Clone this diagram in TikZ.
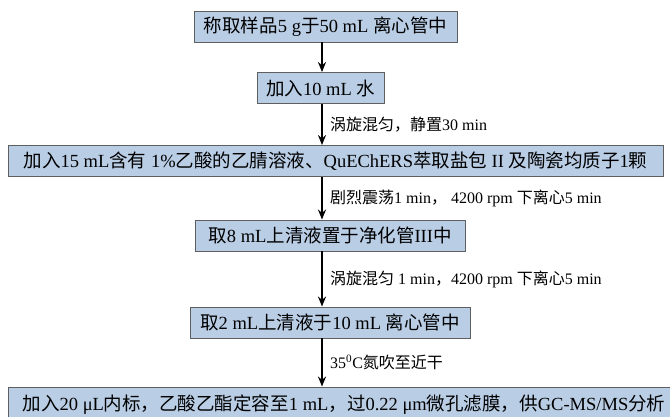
\documentclass[tikz,border=0pt]{standalone}
\usepackage{fontspec}
\setmainfont{Liberation Serif}
\newfontfamily\cjk{Noto Sans CJK SC}
\usetikzlibrary{arrows.meta,positioning}
\definecolor{boxfill}{HTML}{B9CDE5}
\definecolor{boxline}{HTML}{5F5F5F}
\newcommand{\zh}[1]{{\cjk #1}}

\begin{document}
\begin{tikzpicture}[x=1pt, y=1pt]
		\useasboundingbox (0,0) rectangle (670,416);
		\clip (0,0) rectangle (670,416);
		\coordinate (ax) at (322,0);
		\begin{scope}[every node/.style={draw=boxline, fill=boxfill, line width=0.9pt, minimum height=31pt, inner sep=0pt, font=\fontsize{18.5}{21}\selectfont}]
			\node[minimum width=263pt] (b1) at (325.5,389.5) {\zh{称取样品}5 g\zh{于}50 mL \zh{离心管中}};
			\node[minimum width=127pt] (b2) at (320.5,328) {\zh{加入}10 mL \zh{水}};
			\node[minimum width=655pt] (b3) at (335.5,255) {\zh{加入}15 mL\zh{含有} 1\%\zh{乙酸的乙腈溶液、}QuEChERS\zh{萃取盐包} II \zh{及陶瓷均质子}1\zh{颗}};
			\node[minimum width=270pt] (b4) at (330,180.5) {\zh{取}8 mL\zh{上清液置于净化管}III\zh{中}};
			\node[minimum width=280pt] (b5) at (330,93.5) {\zh{取}2 mL\zh{上清液于}10 mL \zh{离心管中}};
			\node[minimum width=672pt, minimum height=36pt] (b6) at (344,11) {\zh{加入}20 μL\zh{内标，乙酸乙酯定容至}1 mL\zh{，过}0.22 μm\zh{微孔滤膜，供}GC-MS/MS\zh{分析}};
		\end{scope}
		\begin{scope}[every path/.style={line width=1.7pt, -{Stealth[length=10pt, width=8pt]}}, every node/.style={right, xshift=4pt, font=\fontsize{16}{19}\selectfont}]
			\path (b1.south -| ax) edge (b2.north -| ax);
			\path (b2.south -| ax) edge node {\zh{涡旋混匀，静置}30 min} (b3.north -| ax);
			\path (b3.south -| ax) edge node {\zh{剧烈震荡}1 min\zh{，} 4200 rpm \zh{下离心}5 min} (b4.north -| ax);
			\path (b4.south -| ax) edge node {\zh{涡旋混匀} 1 min\zh{，}4200 rpm \zh{下离心}5 min} (b5.north -| ax);
			\path (b5.south -| ax) edge node {35\textsuperscript{0}C\zh{氮吹至近干}} (b6.north -| ax);
		\end{scope}
	\end{tikzpicture}
\end{document}
